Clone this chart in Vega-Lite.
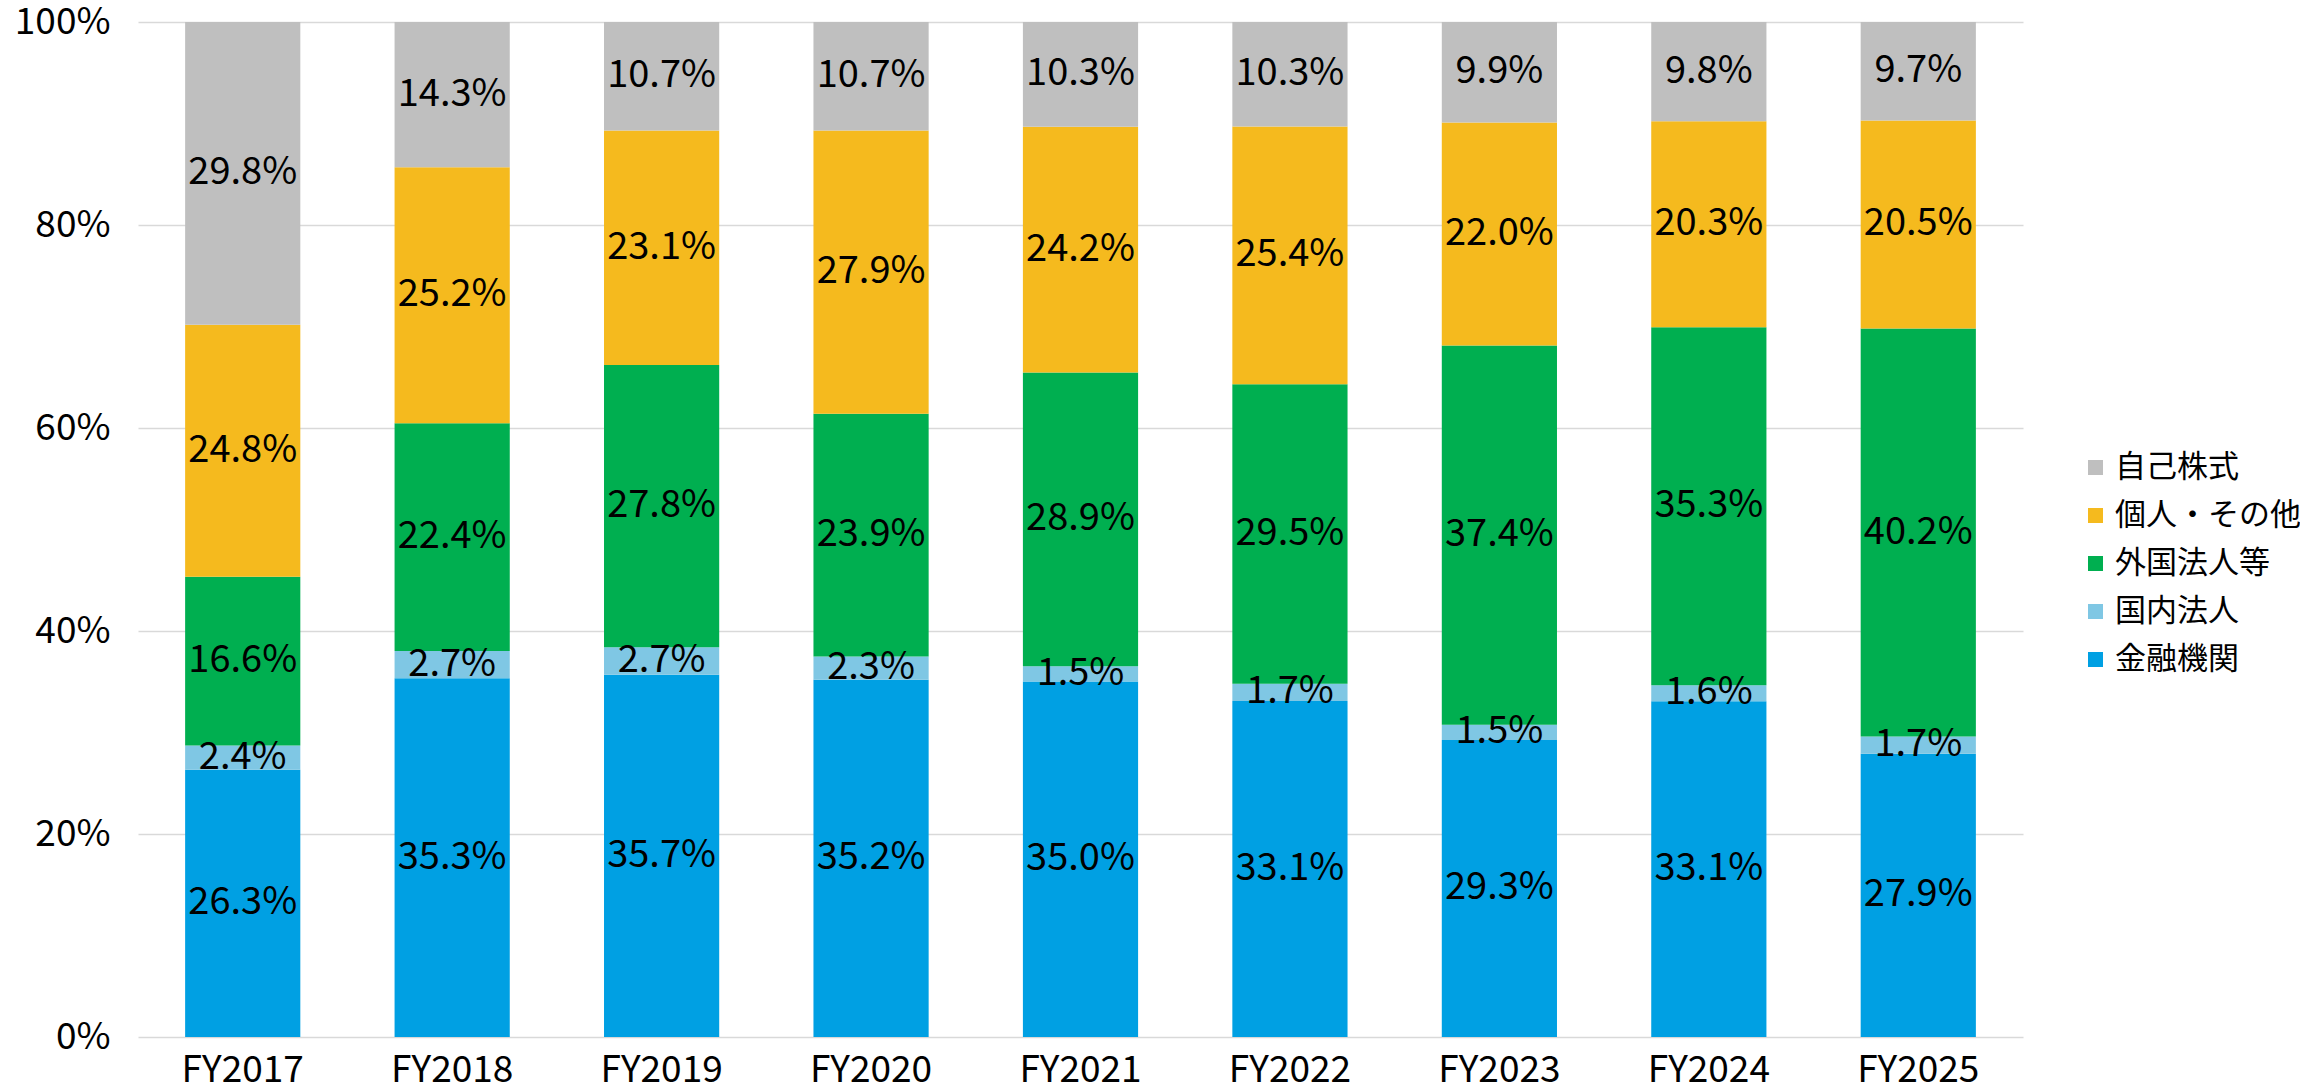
{
  "$schema": "https://vega.github.io/schema/vega-lite/v6.json",
  "autosize": {"type": "none"},
  "padding": {"left": 138, "top": 22, "right": 277, "bottom": 55},
  "width": 1885,
  "height": 1015,
  "background": "white",
  "config": {
    "font": "Noto Sans CJK JP",
    "view": {"stroke": null}
  },
  "data": {
    "values": [
      {"year": "FY2017", "cat": "金融機関", "v": 26.3},
      {"year": "FY2017", "cat": "国内法人", "v": 2.4},
      {"year": "FY2017", "cat": "外国法人等", "v": 16.6},
      {"year": "FY2017", "cat": "個人・その他", "v": 24.8},
      {"year": "FY2017", "cat": "自己株式", "v": 29.8},
      {"year": "FY2018", "cat": "金融機関", "v": 35.3},
      {"year": "FY2018", "cat": "国内法人", "v": 2.7},
      {"year": "FY2018", "cat": "外国法人等", "v": 22.4},
      {"year": "FY2018", "cat": "個人・その他", "v": 25.2},
      {"year": "FY2018", "cat": "自己株式", "v": 14.3},
      {"year": "FY2019", "cat": "金融機関", "v": 35.7},
      {"year": "FY2019", "cat": "国内法人", "v": 2.7},
      {"year": "FY2019", "cat": "外国法人等", "v": 27.8},
      {"year": "FY2019", "cat": "個人・その他", "v": 23.1},
      {"year": "FY2019", "cat": "自己株式", "v": 10.7},
      {"year": "FY2020", "cat": "金融機関", "v": 35.2},
      {"year": "FY2020", "cat": "国内法人", "v": 2.3},
      {"year": "FY2020", "cat": "外国法人等", "v": 23.9},
      {"year": "FY2020", "cat": "個人・その他", "v": 27.9},
      {"year": "FY2020", "cat": "自己株式", "v": 10.7},
      {"year": "FY2021", "cat": "金融機関", "v": 35.0},
      {"year": "FY2021", "cat": "国内法人", "v": 1.5},
      {"year": "FY2021", "cat": "外国法人等", "v": 28.9},
      {"year": "FY2021", "cat": "個人・その他", "v": 24.2},
      {"year": "FY2021", "cat": "自己株式", "v": 10.3},
      {"year": "FY2022", "cat": "金融機関", "v": 33.1},
      {"year": "FY2022", "cat": "国内法人", "v": 1.7},
      {"year": "FY2022", "cat": "外国法人等", "v": 29.5},
      {"year": "FY2022", "cat": "個人・その他", "v": 25.4},
      {"year": "FY2022", "cat": "自己株式", "v": 10.3},
      {"year": "FY2023", "cat": "金融機関", "v": 29.3},
      {"year": "FY2023", "cat": "国内法人", "v": 1.5},
      {"year": "FY2023", "cat": "外国法人等", "v": 37.4},
      {"year": "FY2023", "cat": "個人・その他", "v": 22.0},
      {"year": "FY2023", "cat": "自己株式", "v": 9.9},
      {"year": "FY2024", "cat": "金融機関", "v": 33.1},
      {"year": "FY2024", "cat": "国内法人", "v": 1.6},
      {"year": "FY2024", "cat": "外国法人等", "v": 35.3},
      {"year": "FY2024", "cat": "個人・その他", "v": 20.3},
      {"year": "FY2024", "cat": "自己株式", "v": 9.8},
      {"year": "FY2025", "cat": "金融機関", "v": 27.9},
      {"year": "FY2025", "cat": "国内法人", "v": 1.7},
      {"year": "FY2025", "cat": "外国法人等", "v": 40.2},
      {"year": "FY2025", "cat": "個人・その他", "v": 20.5},
      {"year": "FY2025", "cat": "自己株式", "v": 9.7}
    ]
  },
  "transform": [
    {"calculate": "indexof(['金融機関','国内法人','外国法人等','個人・その他','自己株式'], datum.cat)", "as": "rank"},
    {"stack": "v", "groupby": ["year"], "sort": [{"field": "rank", "order": "ascending"}], "offset": "normalize", "as": ["y0", "y1"]},
    {"calculate": "(datum.y0 + datum.y1) / 2", "as": "mid"},
    {"calculate": "format(datum.v, '.1f') + '%'", "as": "label"}
  ],
  "encoding": {
    "x": {
      "field": "year",
      "type": "nominal",
      "title": null,
      "scale": {"paddingInner": 0.45, "paddingOuter": 0.225},
      "axis": {
        "labelAngle": 0,
        "labelFontSize": 37,
        "labelColor": "#000000",
        "labelPadding": 15,
        "ticks": false,
        "domain": false
      }
    }
  },
  "layer": [
    {
      "mark": {"type": "bar"},
      "encoding": {
        "y": {
          "field": "y0",
          "type": "quantitative",
          "title": null,
          "scale": {"domain": [0, 1], "nice": false},
          "axis": {
            "format": ".0%",
            "values": [0, 0.2, 0.4, 0.6, 0.8, 1],
            "labelFontSize": 37,
            "labelColor": "#000000",
            "labelPadding": 28,
            "ticks": false,
            "domain": false,
            "gridColor": "#d9d9d9",
            "gridWidth": 1.5
          }
        },
        "y2": {"field": "y1"},
        "color": {
          "field": "cat",
          "type": "nominal",
          "scale": {
            "domain": ["自己株式", "個人・その他", "外国法人等", "国内法人", "金融機関"],
            "range": ["#BFBFBF", "#F5BA1E", "#00AF50", "#7FC7E4", "#00A0E3"]
          },
          "legend": {
            "title": null,
            "orient": "none",
            "legendX": 1942,
            "legendY": 430,
            "symbolType": "square",
            "symbolSize": 225,
            "symbolStrokeWidth": 0,
            "labelFontSize": 31,
            "labelColor": "#000000",
            "labelOffset": 4,
            "labelLimit": 400,
            "rowPadding": 16
          }
        }
      }
    },
    {
      "mark": {"type": "text", "fontSize": 38, "color": "#000000", "baseline": "middle", "align": "center"},
      "encoding": {
        "y": {"field": "mid", "type": "quantitative"},
        "text": {"field": "label", "type": "nominal"}
      }
    }
  ]
}
